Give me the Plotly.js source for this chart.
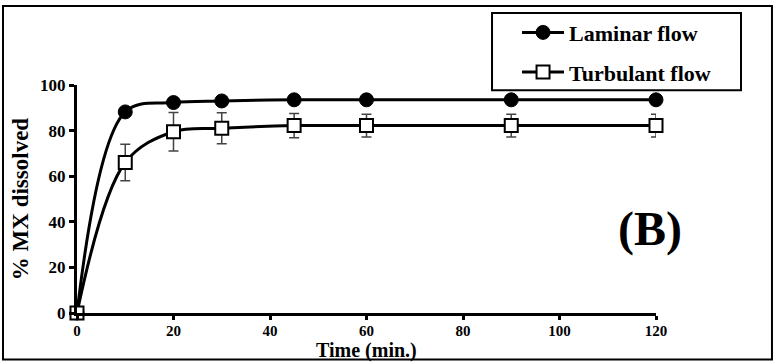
<!DOCTYPE html>
<html>
<head>
<meta charset="utf-8">
<script src="https://cdn.plot.ly/plotly-3.0.1.min.js"></script>
<style>html,body{margin:0;padding:0;background:#fff;}#chart{width:775px;height:363px;}</style>
</head>
<body>
<div id="chart"></div>
<script>
const timeMin = [0, 10, 20, 30, 45, 60, 90, 120];
const laminar = [0, 88.2, 92.3, 93.0, 93.5, 93.5, 93.5, 93.5];
const turbulent = [0, 66.0, 79.5, 81.0, 82.2, 82.2, 82.2, 82.2];
const turbulentErr = [0, 8.0, 8.4, 6.8, 5.3, 5.0, 5.0, 5.0];
const xTicks = [0, 20, 40, 60, 80, 100, 120];
const yTicks = [0, 20, 40, 60, 80, 100];

const FONT = 'Liberation Serif, Times New Roman, serif';

const traces = [
  {
    x: timeMin, y: laminar, name: 'Laminar flow', type: 'scatter', mode: 'lines+markers',
    legendgroup: 'a',
    line: {color: '#000', width: 3, shape: 'spline', smoothing: 1},
    marker: {symbol: 'circle', size: 14, color: '#000', line: {color: '#000', width: 1}},
    cliponaxis: false
  },
  {
    x: timeMin, y: turbulent, name: 'Turbulant flow', type: 'scatter', mode: 'lines+markers',
    legendgroup: 'b',
    line: {color: '#000', width: 3, shape: 'spline', smoothing: 1},
    marker: {symbol: 'square', size: 13, color: '#fff', line: {color: '#000', width: 2}},
    error_y: {type: 'data', array: turbulentErr, visible: true, color: '#444', thickness: 1.5, width: 5},
    cliponaxis: false
  }
];

const layout = {
  width: 775, height: 363,
  margin: {l: 77, r: 119, t: 83, b: 50},
  paper_bgcolor: '#fff', plot_bgcolor: '#fff',
  showlegend: true,
  legend: {
    x: 0.76, xanchor: 'left', y: 1.322, yanchor: 'top',
    bgcolor: 'rgba(0,0,0,0)', borderwidth: 0,
    font: {family: FONT, size: 22, color: '#000', weight: 'bold'},
    tracegroupgap: 8, itemwidth: 42
  },
  xaxis: {
    range: [0, 120], tickvals: xTicks, ticktext: xTicks.map(String),
    showgrid: false, zeroline: false,
    showline: true, linecolor: '#000', linewidth: 3,
    ticks: 'outside', ticklen: 4, tickwidth: 3, tickcolor: '#000',
    ticklabelstandoff: -2,
    tickfont: {family: FONT, size: 15, color: '#000', weight: 'bold'}
  },
  yaxis: {
    range: [0, 100], tickvals: yTicks, ticktext: yTicks.map(String),
    showgrid: false, zeroline: false,
    showline: true, linecolor: '#000', linewidth: 3,
    ticks: 'outside', ticklen: 5, tickwidth: 3, tickcolor: '#000',
    tickfont: {family: FONT, size: 17, color: '#000', weight: 'bold'},
    title: {text: '% MX dissolved', font: {family: FONT, size: 23, color: '#000', weight: 'bold'}, standoff: 6}
  },
  annotations: [
    {text: 'Time (min.)', xref: 'paper', yref: 'paper', x: 0.5, y: -0.166, xanchor: 'center', yanchor: 'middle',
     showarrow: false, borderpad: 0, font: {family: FONT, size: 20, color: '#000', weight: 'bold'}},
    {text: '(B)', xref: 'paper', yref: 'paper', x: 0.99, y: 0.37, xanchor: 'center', yanchor: 'middle',
     showarrow: false, font: {family: FONT, size: 48, color: '#000', weight: 'bold'}}
  ],
  shapes: [
    {type: 'rect', xref: 'paper', yref: 'paper', x0: -0.1278, x1: 1.2003, y0: -0.204, y1: 1.346,
     line: {color: '#000', width: 2}, fillcolor: 'rgba(0,0,0,0)', layer: 'below'},
    {type: 'rect', xref: 'paper', yref: 'paper', x0: 0.7168, x1: 1.1468, y0: 0.977, y1: 1.316,
     line: {color: '#000', width: 2}, fillcolor: '#fff', layer: 'below'}
  ]
};

Plotly.newPlot('chart', traces, layout, {displayModeBar: false, staticPlot: true});
</script>
</body>
</html>
